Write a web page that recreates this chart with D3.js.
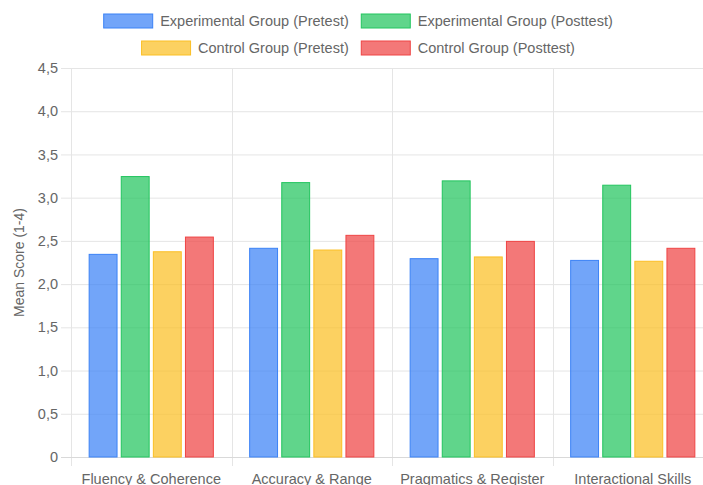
<!DOCTYPE html>
<html>
<head>
<meta charset="utf-8">
<script src="https://cdn.jsdelivr.net/npm/d3@7"></script>
<style>
  html, body { margin: 0; padding: 0; background: #fff; }
  svg { display: block; font-family: "Liberation Sans", Arial, Helvetica, sans-serif; }
</style>
</head>
<body>
<svg id="chart" width="703" height="485"></svg>
<script>
// Skill categories along the x axis
const categories = ["Fluency & Coherence", "Accuracy & Range", "Pragmatics & Register", "Interactional Skills"];

// Mean scores (1-4 scale) per group and test
const expPretest  = [2.35, 2.42, 2.30, 2.28];
const expPosttest = [3.25, 3.18, 3.20, 3.15];
const ctrlPretest = [2.38, 2.40, 2.32, 2.27];
const ctrlPosttest = [2.55, 2.57, 2.50, 2.42];

const seriesNames = ["Experimental Group (Pretest)", "Experimental Group (Posttest)", "Control Group (Pretest)", "Control Group (Posttest)"];
const seriesFill = ["rgba(59,130,246,0.72)", "rgba(34,197,94,0.72)", "rgba(251,191,36,0.72)", "rgba(239,68,68,0.72)"];
const seriesStroke = ["#3b82f6", "#22c55e", "#fbbf24", "#ef4444"];

// Y axis ticks, labelled with a decimal comma
const yTicks = [0, 0.5, 1, 1.5, 2, 2.5, 3, 3.5, 4, 4.5];
const yTickLabels = ["0", "0,5", "1,0", "1,5", "2,0", "2,5", "3,0", "3,5", "4,0", "4,5"];
const yTitle = "Mean Score (1-4)";

const series = [expPretest, expPosttest, ctrlPretest, ctrlPosttest];

const svg = d3.select("#chart");
const textColor = "#666";
const gridColor = "#e5e5e5";
const fontSize = 14.5;

const plot = { left: 71, right: 713, top: 68, bottom: 457 };

const x = d3.scaleBand().domain(categories).range([plot.left, plot.right]).paddingInner(0).paddingOuter(0);
const xInner = d3.scaleBand().domain(d3.range(series.length))
  .range([0, x.bandwidth() * 0.8]).paddingInner(0.1).paddingOuter(0.05);
const y = d3.scaleLinear().domain([0, 4.5]).range([plot.bottom, plot.top]);

// Horizontal grid lines with tick marks extending left of the axis
const yAxis = d3.axisLeft(y).tickValues(yTicks)
  .tickSize(plot.right - plot.left + 10)
  .tickFormat((d, i) => yTickLabels[i]);
const gy = svg.append("g").attr("transform", `translate(${plot.right},0)`).call(yAxis);
gy.select(".domain").remove();
gy.selectAll(".tick line").attr("stroke", gridColor).attr("stroke-width", 1);
gy.selectAll(".tick text").attr("fill", textColor).attr("font-size", fontSize)
  .attr("x", -(plot.right - plot.left) - 13).attr("text-anchor", "end");

// Vertical grid lines at category boundaries, with ticks below the axis
const boundaries = categories.map(c => x(c)).concat([plot.right]);
svg.append("g").selectAll("line").data(boundaries).join("line")
  .attr("x1", d => Math.round(d) + 0.5).attr("x2", d => Math.round(d) + 0.5)
  .attr("y1", plot.top).attr("y2", plot.bottom + 9)
  .attr("stroke", gridColor).attr("stroke-width", 1);

// Axis baselines
svg.append("line").attr("x1", plot.left - 10).attr("x2", plot.right)
  .attr("y1", plot.bottom + 0.5).attr("y2", plot.bottom + 0.5)
  .attr("stroke", "#d9d9d9").attr("stroke-width", 1);

// X axis labels
const xAxis = d3.axisBottom(x).tickSize(0).tickPadding(0);
const gx = svg.append("g").attr("transform", `translate(0,${plot.bottom})`).call(xAxis);
gx.select(".domain").remove();
gx.selectAll(".tick text").attr("fill", textColor).attr("font-size", fontSize)
  .attr("font-family", "Liberation Sans, Arial, sans-serif")
  .attr("dy", null).attr("y", 27);

// Bars
const groups = svg.append("g").selectAll("g").data(categories).join("g")
  .attr("transform", c => `translate(${x(c) + x.bandwidth() * 0.1},0)`);
groups.selectAll("rect").data((c, ci) => series.map((s, si) => ({ si, v: s[ci] }))).join("rect")
  .attr("x", d => xInner(d.si) + 0.5)
  .attr("width", xInner.bandwidth() - 1)
  .attr("y", d => y(d.v) + 0.5)
  .attr("height", d => y(0) - y(d.v) - 0.5)
  .attr("fill", d => seriesFill[d.si])
  .attr("stroke", d => seriesStroke[d.si])
  .attr("stroke-width", 1);

// Y axis title
svg.append("text")
  .attr("transform", `translate(24,${(plot.top + plot.bottom) / 2}) rotate(-90)`)
  .attr("text-anchor", "middle").attr("fill", textColor).attr("font-size", 14)
  .text(yTitle);

// Legend: two centred rows
const legendRows = [[0, 1], [2, 3]];
const legendY = [21, 48];
const boxW = 50, boxH = 15, boxGap = 7, itemGap = 12, legendCenter = 358;
const legend = svg.append("g");
legendRows.forEach((row, ri) => {
  const rowG = legend.append("g");
  let cx = 0;
  row.forEach(si => {
    const item = rowG.append("g").attr("transform", `translate(${cx},0)`);
    item.append("rect").attr("x", 0.5).attr("y", legendY[ri] - boxH / 2 + 0.5)
      .attr("width", boxW - 1).attr("height", boxH - 1)
      .attr("fill", seriesFill[si]).attr("stroke", seriesStroke[si]).attr("stroke-width", 1);
    const t = item.append("text").attr("x", boxW + boxGap).attr("y", legendY[ri])
      .attr("dy", "0.35em").attr("fill", textColor).attr("font-size", fontSize)
      .text(seriesNames[si]);
    cx += boxW + boxGap + t.node().getComputedTextLength() + itemGap;
  });
  const w = cx - itemGap;
  rowG.attr("transform", `translate(${legendCenter - w / 2},0)`);
});
</script>
</body>
</html>
